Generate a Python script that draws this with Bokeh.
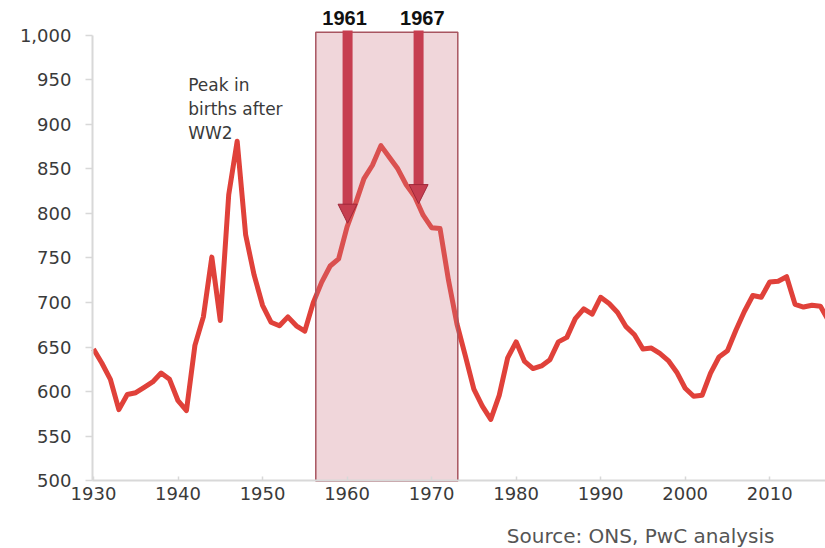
from bokeh.plotting import figure
from bokeh.models import Label, Arrow, NormalHead, NumeralTickFormatter, FixedTicker, Range1d
from bokeh.embed import file_html
from bokeh.resources import INLINE

years = list(range(1930, 2018))
births = [648, 632, 614, 580, 597, 599, 605, 611, 621, 614,
          590, 579, 652, 684, 751, 680, 821, 881, 776, 731,
          697, 678, 674, 684, 674, 668, 700, 723, 741, 749,
          785, 811, 839, 854, 876, 863, 850, 832, 819, 798,
          784, 783, 725, 676, 640, 603, 584, 569, 596, 638,
          656, 634, 626, 629, 636, 656, 661, 682, 693, 687,
          706, 699, 689, 673, 664, 648, 649, 643, 635, 622,
          604, 595, 596, 621, 639, 646, 669, 690, 708, 706,
          723, 724, 729, 698, 695, 697, 696, 679]

y_ticks = [500, 550, 600, 650, 700, 750, 800, 850, 900, 950, 1000]
x_ticks = [1930, 1940, 1950, 1960, 1970, 1980, 1990, 2000, 2010, 2020]

box_span = [1956.3, 1973.1]
box_vals = [500, 1003]

arrow_labels = ["1961", "1967"]
arrow_x = [1960.06, 1968.46]
arrow_label_x = [1959.7, 1968.9]
arrow_top = [1005, 1005]
arrow_base = [801, 824]
arrow_tip = [789, 811]

x_axis_start = 1929.88
x_end = 2016.6

p = figure(width=825, height=548, output_backend="svg", toolbar_location=None,
           x_range=Range1d(1919.0, x_end), y_range=Range1d(424.3, 1038.7),
           min_border_left=0, min_border_right=0, min_border_top=0, min_border_bottom=0)
p.outline_line_color = None
p.xgrid.visible = False
p.ygrid.visible = False
p.background_fill_color = "white"
p.border_fill_color = "white"

p.line(years, births, line_color="#e0413a", line_width=5, line_join="round")

p.quad(left=[box_span[0]], right=[box_span[1]], bottom=[box_vals[0]], top=[box_vals[1]],
       fill_color="#cd7684", fill_alpha=0.3, line_color="#a85560", line_width=1.5)

p.segment(x0=arrow_x, y0=arrow_top, x1=arrow_x, y1=arrow_base,
          line_color="#c63e50", line_width=10, line_cap="butt")
for i in range(2):
    p.add_layout(Arrow(end=NormalHead(size=19, fill_color="#c63e50", line_color="#a0283a", line_width=1),
                       x_start=arrow_x[i], y_start=arrow_base[i] + 5, x_end=arrow_x[i], y_end=arrow_tip[i],
                       line_alpha=0))
    p.add_layout(Label(x=arrow_label_x[i], y=1019, text=arrow_labels[i], text_align="center",
                       text_baseline="alphabetic", text_font="Liberation Sans", text_font_style="bold",
                       text_font_size="20px", text_color="#111111"))

p.add_layout(Label(x=1941.2, y=955, text="Peak in\nbirths after\nWW2", text_align="left",
                   text_baseline="top", text_font="DejaVu Sans", text_font_size="17px",
                   text_color="#3a3a3a", text_line_height=1.2))

p.add_layout(Label(x=1994.73, y=438, text="Source: ONS, PwC analysis", text_align="center",
                   text_baseline="alphabetic", text_font="DejaVu Sans", text_font_size="20px",
                   text_color="#555555"))

p.yaxis.ticker = FixedTicker(ticks=y_ticks)
p.yaxis.formatter = NumeralTickFormatter(format="0,0")
p.yaxis.bounds = (500, 1000)
p.yaxis.fixed_location = x_axis_start
p.xaxis.ticker = FixedTicker(ticks=x_ticks)
p.xaxis.fixed_location = 500
p.xaxis.bounds = (x_axis_start, x_end)

for ax in (p.xaxis[0], p.yaxis[0]):
    ax.axis_line_color = "#d8d8d8"
    ax.axis_line_width = 2
    ax.major_tick_line_color = "#d8d8d8"
    ax.major_tick_line_width = 1.5
    ax.minor_tick_line_color = None
    ax.major_label_text_font = "DejaVu Sans"
    ax.major_label_text_font_size = "18px"
    ax.major_label_text_color = "#3a3a3a"

p.yaxis.major_tick_out = 7
p.yaxis.major_tick_in = 0
p.yaxis.major_label_standoff = 14
p.xaxis.major_tick_out = 0
p.xaxis.major_tick_in = 4
p.xaxis.major_label_standoff = 6

open("out.html", "w").write(file_html(p, INLINE))
